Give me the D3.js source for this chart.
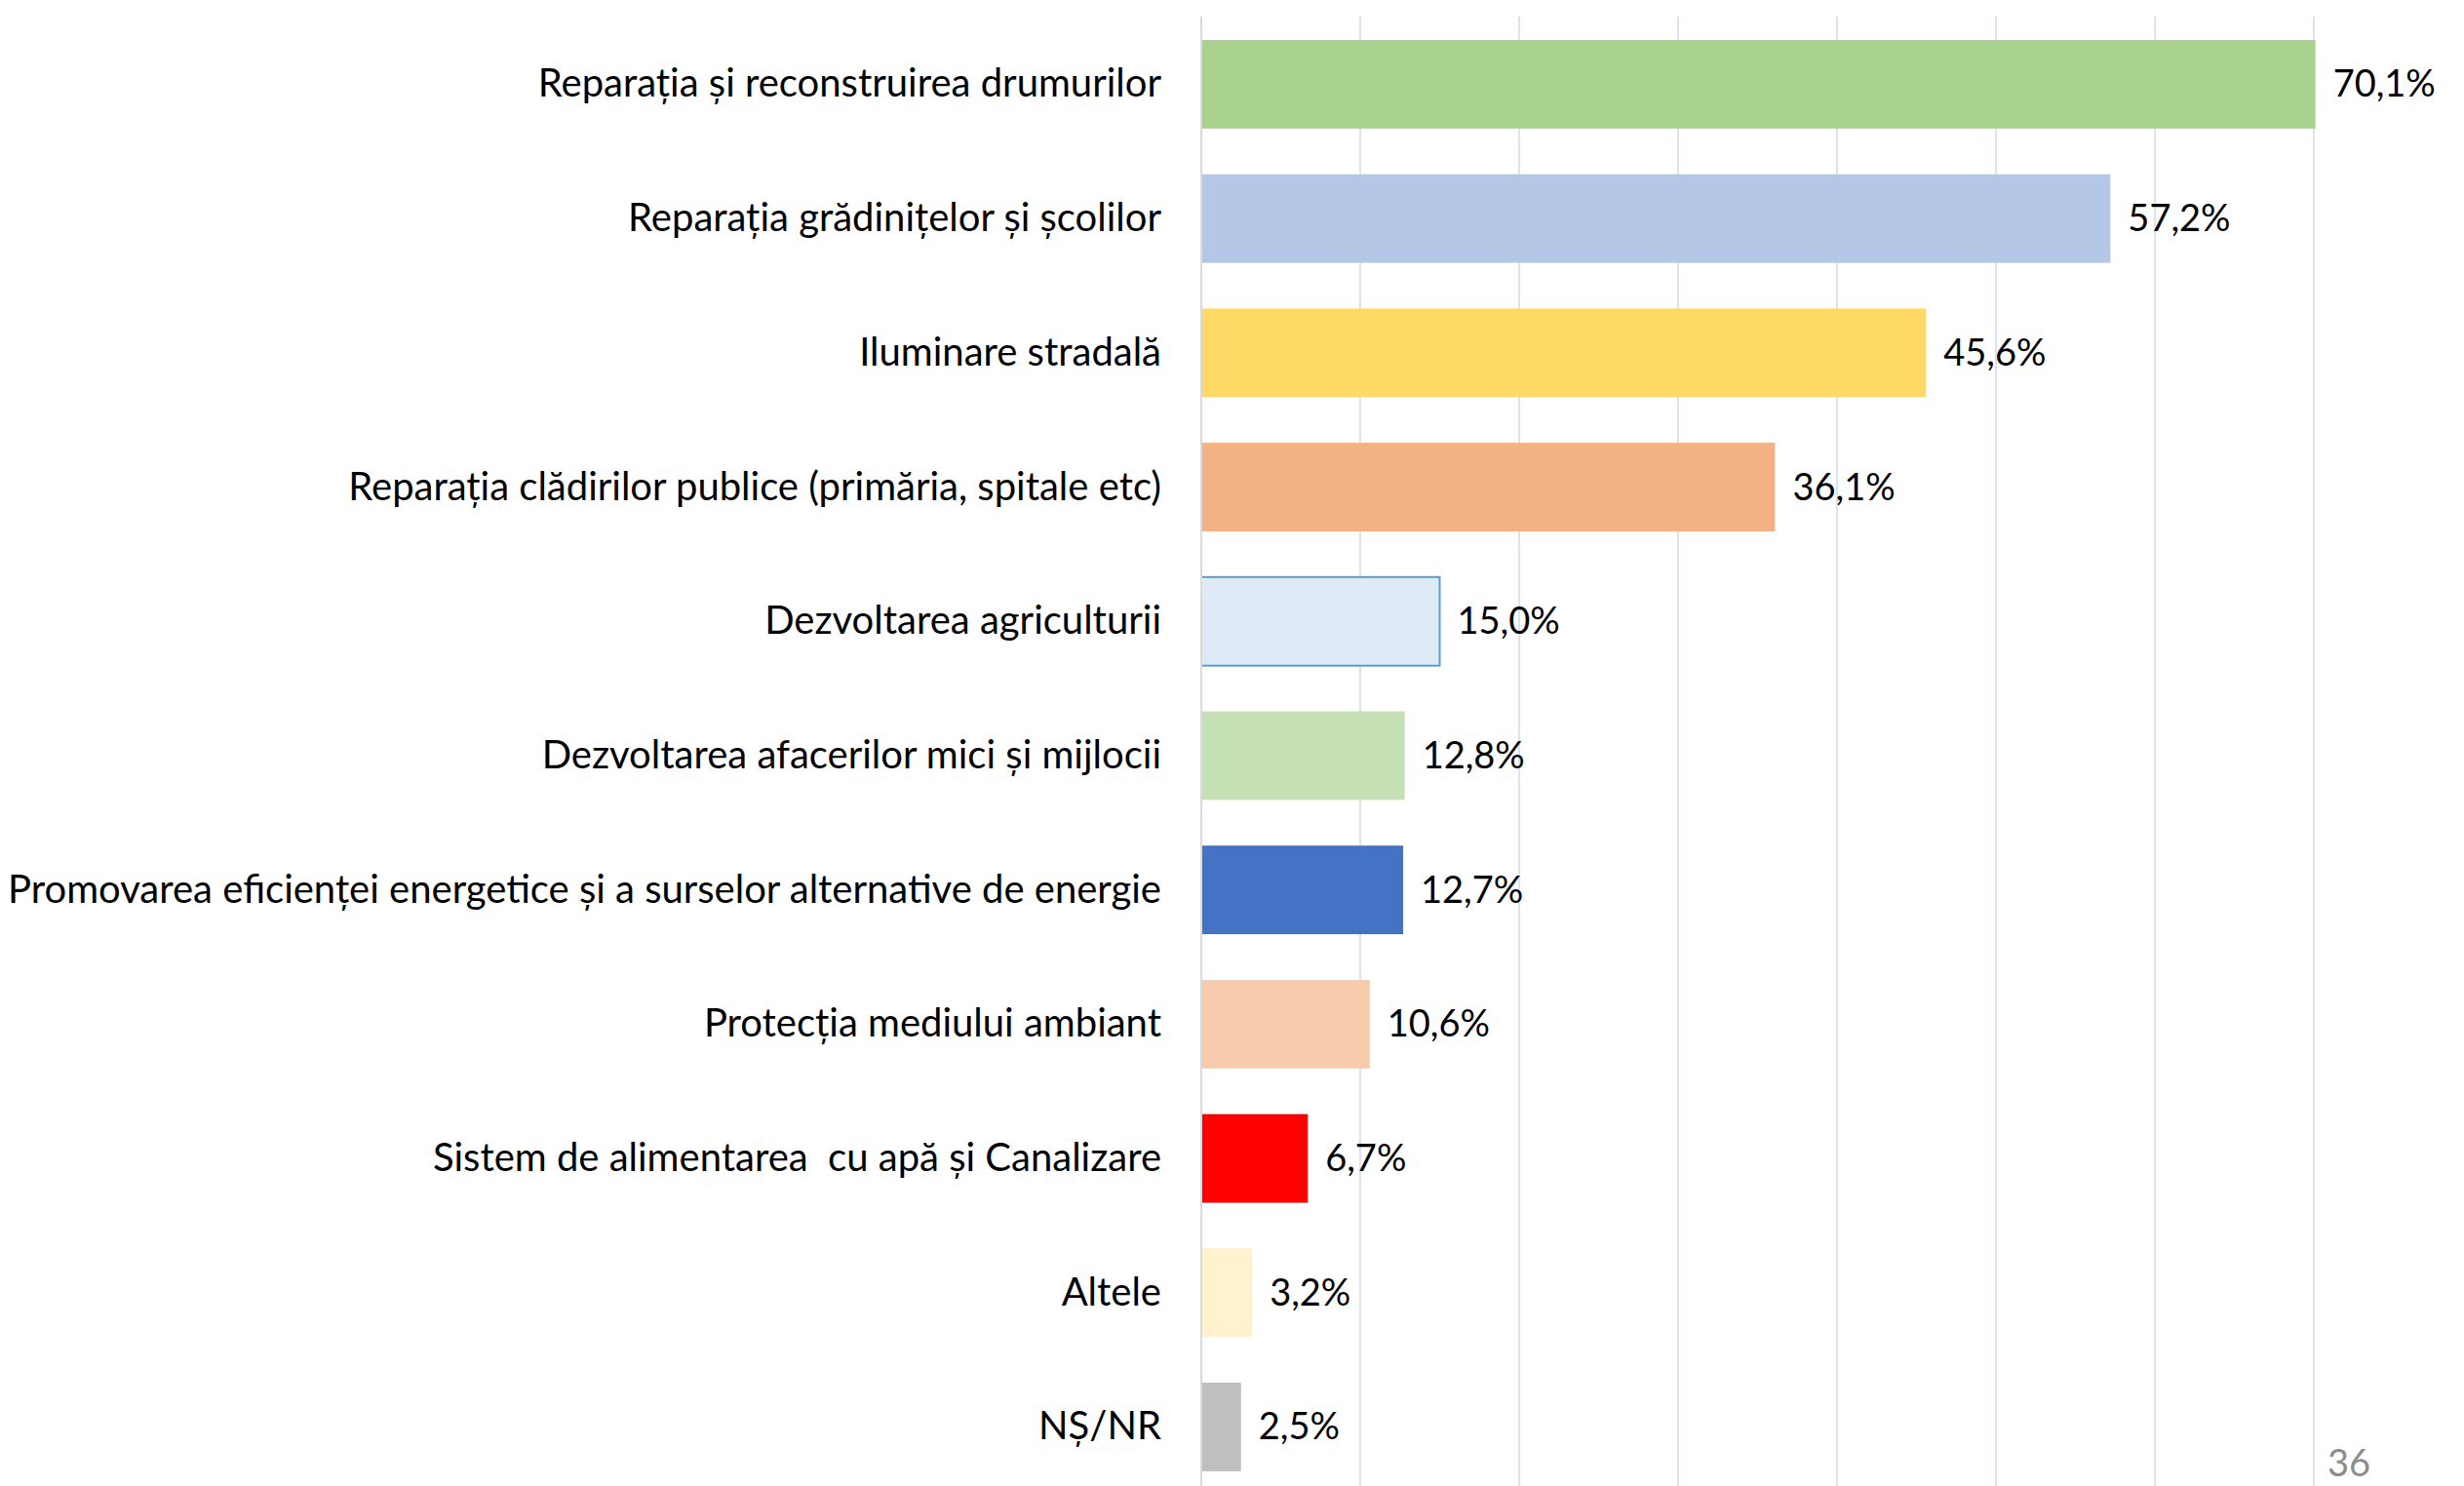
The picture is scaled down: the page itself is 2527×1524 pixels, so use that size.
<!DOCTYPE html>
<html>
 <head>
  <meta charset="utf-8" />
  <title>Priorități</title>
  <script src="https://cdn.jsdelivr.net/npm/d3@7"></script>
  <style>
    body { margin: 0; background: #fff; }
    text { font-family: Lato, "Open Sans", sans-serif; }
  </style>
 </head>

 <body>
  <script>
    var categories = [
      "Reparația și reconstruirea drumurilor",
      "Reparația grădinițelor și școlilor",
      "Iluminare stradală",
      "Reparația clădirilor publice (primăria, spitale etc)",
      "Dezvoltarea agriculturii",
      "Dezvoltarea afacerilor mici și mijlocii",
      "Promovarea eficienței energetice și a surselor alternative de energie",
      "Protecția mediului ambiant",
      "Sistem de alimentarea  cu apă și Canalizare",
      "Altele",
      "NȘ/NR"
    ];
    var values = [70.1, 57.2, 45.6, 36.1, 15.0, 12.8, 12.7, 10.6, 6.7, 3.2, 2.5];
    var colors = ["#a9d18e", "#b4c7e7", "#ffd966", "#f4b183", "#deebf7", "#c5e0b4",
                  "#4472c4", "#f8cbad", "#ff0000", "#fff2cc", "#bfbfbf"];
    var gridTicks = [10, 20, 30, 40, 50, 60, 70];
    var pageNumber = "36";

    var w = 2527, h = 1524,
        labelSize = 40, valueSize = 38;

    var x = d3.scaleLinear().domain([0, 70]).range([1232, 2373]),
        y = d3.scaleBand().domain(categories).range([17.6, 1532.3])
              .paddingInner(0.34).paddingOuter(0.17);

    var svg = d3.select("body")
        .append("svg")
        .attr("width", w)
        .attr("height", h);

    // vertical gridlines
    svg.append("g").selectAll("line")
      .data(gridTicks)
      .enter().append("line")
        .attr("x1", function(d) { return x(d); })
        .attr("x2", function(d) { return x(d); })
        .attr("y1", 17)
        .attr("y2", h)
        .attr("stroke", "#dae3f3")
        .attr("stroke-width", 2);

    // bars
    svg.append("g").selectAll("rect")
      .data(values)
      .enter().append("rect")
        .attr("x", x(0))
        .attr("y", function(d, i) { return y(categories[i]); })
        .attr("width", function(d) { return x(d) - x(0); })
        .attr("height", y.bandwidth())
        .attr("fill", function(d, i) { return colors[i]; })
        .attr("stroke", function(d, i) { return i === 4 ? "#5b9bd5" : "none"; })
        .attr("stroke-width", 2);

    // category axis line
    svg.append("line")
        .attr("x1", x(0)).attr("x2", x(0))
        .attr("y1", 17).attr("y2", h)
        .attr("stroke", "#d9d9d9")
        .attr("stroke-width", 2);

    // category labels
    svg.append("g").selectAll("text")
      .data(categories)
      .enter().append("text")
        .attr("x", x(0) - 41)
        .attr("y", function(d) { return y(d) + y.bandwidth() / 2 + 13; })
        .attr("text-anchor", "end")
        .attr("font-size", labelSize)
        .attr("fill", "#000")
        .style("white-space", "pre")
        .text(function(d) { return d; });

    // value labels
    svg.append("g").selectAll("text")
      .data(values)
      .enter().append("text")
        .attr("x", function(d) { return x(d) + 18; })
        .attr("y", function(d, i) { return y(categories[i]) + y.bandwidth() / 2 + 13; })
        .attr("font-size", valueSize)
        .attr("fill", "#000")
        .text(function(d) { return d.toFixed(1).replace(".", ",") + "%"; });

    // page number
    svg.append("text")
        .attr("x", 2387)
        .attr("y", 1514)
        .attr("font-size", valueSize)
        .attr("fill", "#8c8c8c")
        .text(pageNumber);
  </script>
 </body>
</html>
